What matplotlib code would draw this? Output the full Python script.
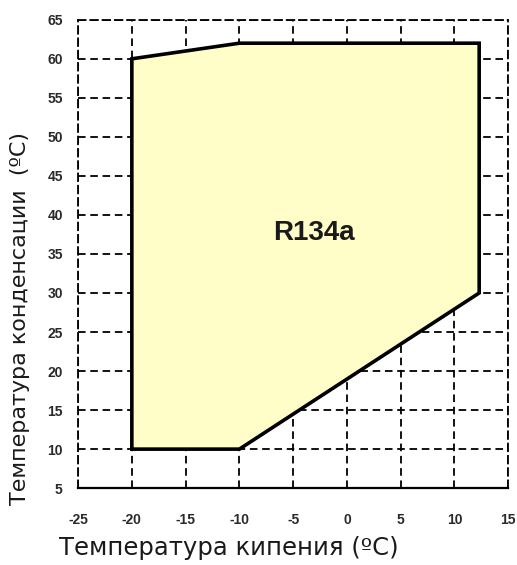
import matplotlib.pyplot as plt
import numpy as np

# envelope of R134a operating area
t_evap = [-20, -20, -10, 12.3, 12.3, -10]
t_cond = [10, 60, 62, 62, 30, 10]

x_ticks = [-25, -20, -15, -10, -5, 0, 5, 10, 15]
y_ticks = [5, 10, 15, 20, 25, 30, 35, 40, 45, 50, 55, 60, 65]

plt.rcParams['font.family'] = ['Liberation Sans', 'DejaVu Sans']
plt.rcParams['axes.unicode_minus'] = False

fig = plt.figure(figsize=(5.17, 5.65), dpi=100)
ax = fig.add_axes([0.151, 0.136, 0.832, 0.829])

ax.fill(t_evap, t_cond, facecolor='#fffdc8', edgecolor='black', lw=2.6, zorder=2)

ax.set_xlim(-25, 15)
ax.set_ylim(5, 65)
ax.set_xticks(x_ticks)
ax.set_yticks(y_ticks)
dash = (0, (4.2, 2.6))
ax.grid(True, color='black', linestyle=dash, linewidth=1.3, zorder=1)
ax.set_axisbelow(True)

for s in ['top', 'right', 'left']:
    ax.spines[s].set_linestyle(dash)
    ax.spines[s].set_linewidth(1.3)
ax.spines['bottom'].set_linewidth(1.6)

ax.tick_params(axis='both', length=0, labelsize=10, labelcolor='#2a2a2a')
ax.tick_params(axis='y', pad=11)
ax.tick_params(axis='x', pad=18)
for lab in ax.get_xticklabels() + ax.get_yticklabels():
    lab.set_fontweight('bold')

ax.text(-3.1, 37.7, 'R134a', fontsize=20, fontweight='bold', color='#1a1a1a',
        ha='center', va='center', zorder=3)

ax.set_xlabel('Температура кипения (ºC)', fontsize=17.5, family='DejaVu Sans',
              color='#1a1a1a', va='center')
ax.xaxis.set_label_coords(0.351, -0.128)
ax.set_ylabel('Температура конденсации  (ºC)', fontsize=16, family='DejaVu Sans',
              color='#1a1a1a', va='center')
ax.yaxis.set_label_coords(-0.135, 0.363)

fig.savefig('out.png', dpi=100)
